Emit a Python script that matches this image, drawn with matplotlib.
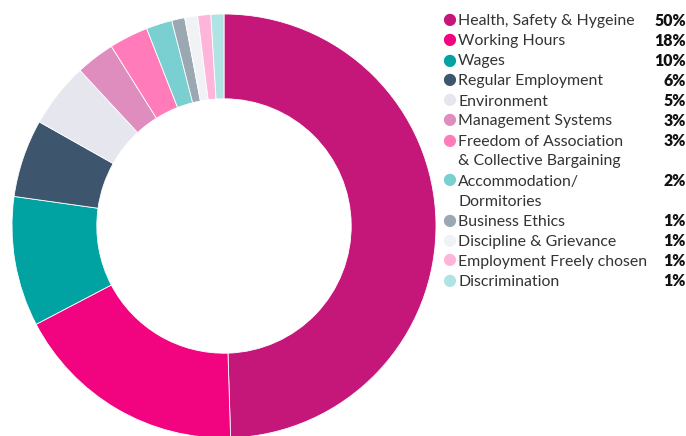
import matplotlib.pyplot as plt

# Data
labels = ["Health, Safety & Hygeine", "Working Hours", "Wages", "Regular Employment",
          "Environment", "Management Systems", "Freedom of Association\n& Collective Bargaining",
          "Accommodation/\nDormitories", "Business Ethics", "Discipline & Grievance",
          "Employment Freely chosen", "Discrimination"]
values = [50, 18, 10, 6, 5, 3, 3, 2, 1, 1, 1, 1]
colors = ["#C5177A", "#F2037F", "#00A3A1", "#3D566E", "#E6E7EE", "#DF8DBE",
          "#FF7BB9", "#7ACFD0", "#9BA8B2", "#F1F2F6", "#FFB5DA", "#B0E3E3"]

W, H = 686, 436
fig = plt.figure(figsize=(W / 100, H / 100), dpi=100)

# donut, centred at about (224, 226) px, outer radius 212 px
cx, cy, r = 224, 226, 212
ax = fig.add_axes([(cx - r) / W, (H - cy - r) / H, 2 * r / W, 2 * r / H])
ax.pie(values, colors=colors, startangle=90, counterclock=False, radius=1,
       wedgeprops=dict(width=0.4, edgecolor="white", linewidth=0.6))
ax.set_xlim(-1, 1)
ax.set_ylim(-1, 1)
ax.set_aspect("equal")
ax.axis("off")

# legend drawn by hand, one text per line
y = 20
for lab, val, col in zip(labels, values, colors):
    fig.text(449 / W, 1 - y / H, "\u25CF", color=col, fontsize=11.5,
             ha="center", va="center", family="DejaVu Sans")
    for i, line in enumerate(lab.split("\n")):
        fig.text(458 / W, 1 - (y + 20 * i + 5.5) / H, line, color="#333333",
                 fontsize=11.4, family="Lato", ha="left", va="baseline")
    fig.text(686 / W, 1 - (y + 5.5) / H, f"{val}%", color="#111111", fontsize=11.4,
             family="Lato", weight="heavy", ha="right", va="baseline")
    y += 20 * (lab.count("\n") + 1)

fig.savefig("out.png", dpi=100)
